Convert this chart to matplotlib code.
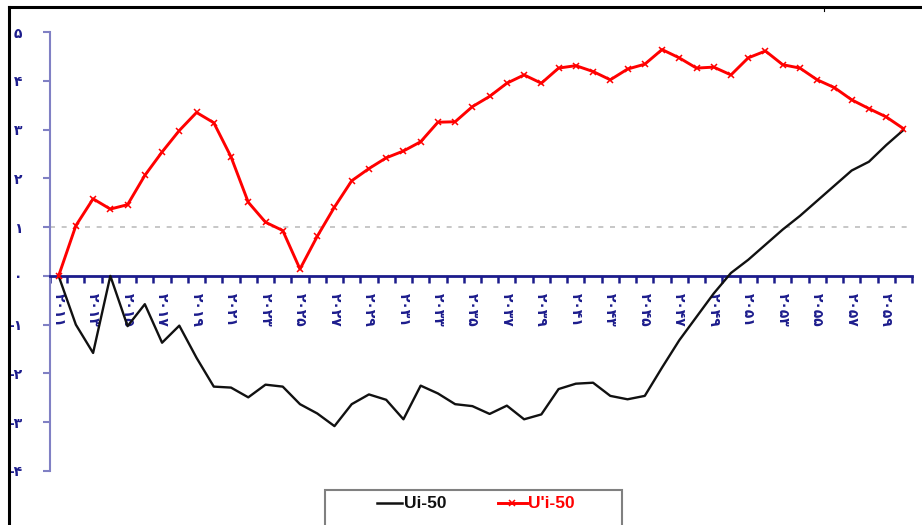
import matplotlib
matplotlib.use('Agg')
import matplotlib.pyplot as plt
from matplotlib.lines import Line2D
from matplotlib.patches import Rectangle

# sequential Mann-Kendall, years 2011-2060
years = list(range(2011, 2061))
ui = [0.00, -1.00, -1.58, 0.00, -1.03, -0.58, -1.37, -1.02, -1.68, -2.27,
      -2.29, -2.49, -2.23, -2.27, -2.63, -2.82, -3.08, -2.63, -2.43, -2.54,
      -2.94, -2.25, -2.41, -2.63, -2.67, -2.83, -2.66, -2.94, -2.84, -2.32,
      -2.21, -2.19, -2.46, -2.53, -2.46, -1.88, -1.32, -0.84, -0.36, 0.06,
      0.33, 0.64, 0.95, 1.23, 1.54, 1.85, 2.16, 2.34, 2.68, 2.99]
ui_prime = [0.00, 1.03, 1.58, 1.37, 1.46, 2.06, 2.54, 2.98, 3.35, 3.14,
            2.44, 1.51, 1.10, 0.93, 0.14, 0.81, 1.41, 1.95, 2.20, 2.42,
            2.56, 2.75, 3.15, 3.16, 3.47, 3.68, 3.95, 4.12, 3.95, 4.26,
            4.31, 4.19, 4.02, 4.24, 4.34, 4.64, 4.47, 4.26, 4.28, 4.12,
            4.47, 4.61, 4.33, 4.26, 4.02, 3.86, 3.61, 3.43, 3.26, 3.02]
yticks = list(range(-4, 6))
ref_level = 1

fa = str.maketrans('0123456789', '۰۱۲۳۴۵۶۷۸۹')
navy = '#1c1c8c'
ylight = '#8080c4'

fig = plt.figure(figsize=(9.22, 5.25), dpi=100)
ax = fig.add_axes([50/922, 1-471/525, 862/922, 439/525])

x = list(range(len(years)))
ax.axhline(ref_level, color='#bdbdbd', lw=1.2, ls=(0, (3, 4)), zorder=1)
ax.plot(x, ui, color='#111111', lw=1.7, zorder=4)
ax.plot(x, ui_prime, color='#ff0000', lw=2.1, marker='x', ms=4.5, mew=1.1, zorder=5)

ax.set_xlim(-0.5, len(years) - 0.5)
ax.set_ylim(-4, 5)
ax.spines['top'].set_visible(False)
ax.spines['right'].set_visible(False)
ax.spines['bottom'].set_position(('data', 0))
ax.spines['bottom'].set_color(navy)
ax.spines['bottom'].set_linewidth(2)
ax.spines['bottom'].set_zorder(3)
ax.spines['left'].set_color(ylight)
ax.spines['left'].set_linewidth(1.5)

ax.set_xticks([i - 0.5 for i in range(len(years) + 1)])
ax.set_xticklabels([])
ax.set_xticks(x[::2], minor=True)
ax.set_xticklabels([str(y).translate(fa) for y in years[::2]], minor=True,
                   rotation=270, ha='center', va='top',
                   fontsize=10, fontweight='bold', color=navy, family='DejaVu Sans')
ax.tick_params(axis='x', which='major', direction='out', length=5, width=1.8, color=navy)
ax.tick_params(axis='x', which='minor', length=0, pad=12)

ax.set_yticks(yticks)
ax.set_yticklabels([('-' if v < 0 else '') + str(abs(v)).translate(fa) for v in yticks],
                   fontsize=10, fontweight='bold', color=navy, family='DejaVu Sans')
ax.tick_params(axis='y', direction='out', length=5, width=1.5, color=ylight, pad=15)

# outer frame (cropped chart border)
fig.add_artist(Line2D([9/922, 9/922], [0, 1 - 7/525], transform=fig.transFigure, color='black', lw=2.2))
fig.add_artist(Line2D([9/922, 1], [1 - 7/525, 1 - 7/525], transform=fig.transFigure, color='black', lw=2.2))
fig.add_artist(Line2D([824/922, 824/922], [1 - 7/525, 1 - 11/525], transform=fig.transFigure, color='black', lw=0.8))

# legend
fig.add_artist(Rectangle((325/922, -0.05), 297/922, 0.05 + 1 - 490/525, transform=fig.transFigure,
                         fill=False, edgecolor='#808080', lw=1.5))
ly = 1 - 503/525
fig.add_artist(Line2D([377/922, 402/922], [ly, ly], transform=fig.transFigure, color='#111111', lw=1.8))
fig.text(404/922, ly, 'Ui-50', family='Liberation Sans', fontweight='bold', fontsize=12.5,
         color='#111111', va='center')
fig.add_artist(Line2D([498/922, 527/922], [ly, ly], transform=fig.transFigure, color='#ff0000', lw=2.1))
fig.add_artist(Line2D([512/922], [ly], transform=fig.transFigure, color='#ff0000',
                      marker='x', ms=4.5, mew=1.1))
fig.text(528/922, ly, "U'i-50", family='Liberation Sans', fontweight='bold', fontsize=12.5,
         color='#ff0000', va='center')

fig.savefig('out.png', dpi=100)
